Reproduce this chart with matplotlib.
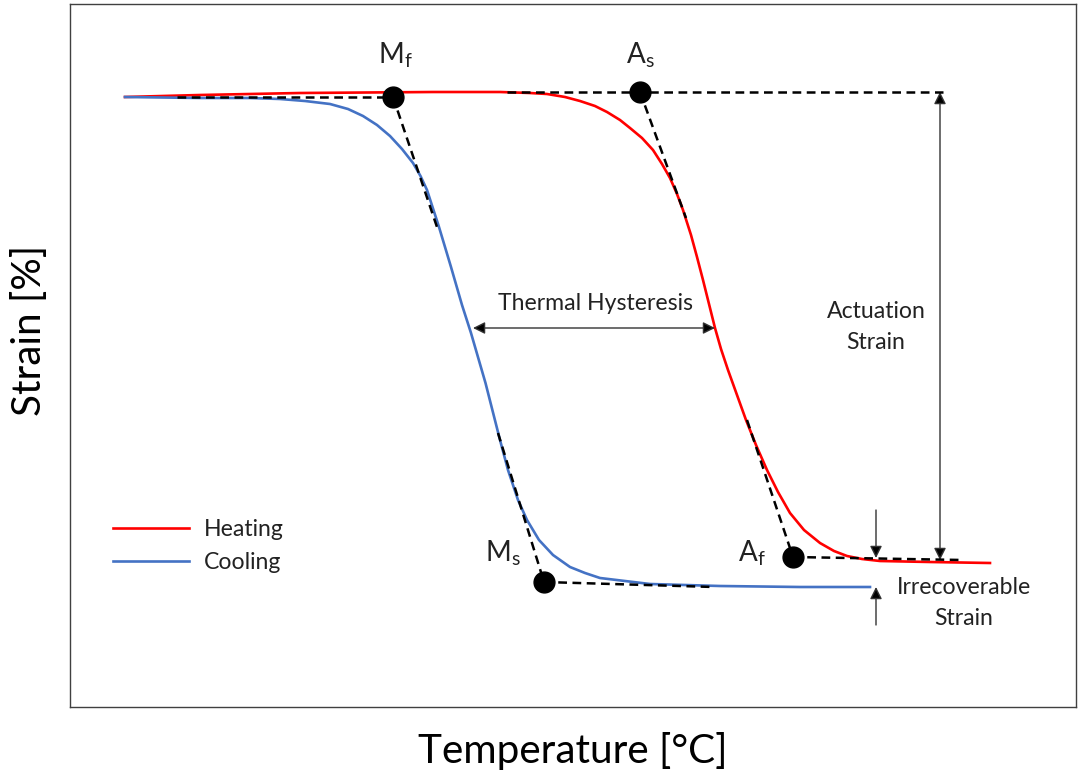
"""Shape-memory alloy strain vs temperature schematic (heating/cooling loop)."""

import matplotlib
matplotlib.use("Agg")
import matplotlib.pyplot as plt

plt.rcParams["font.family"] = ["Lato", "DejaVu Sans"]
plt.rcParams["mathtext.fontset"] = "custom"
plt.rcParams["mathtext.rm"] = "Lato"
plt.rcParams["mathtext.it"] = "Lato"

# --- Curves (temperature in arbitrary units, strain in arbitrary units) ---
cool_temp = [12.5, 20.0, 25.0, 28.0, 30.5, 33.0, 34.8, 36.3, 37.7, 39.0, 40.2,
             41.3, 42.05, 42.7, 43.9, 45.1, 46.2, 47.1, 48.55, 50.0, 50.8, 51.8,
             52.7, 53.9, 55.3, 57.0, 58.5, 60.0, 62.5, 65.0, 72.0, 80.0, 87.0]
cool_strain = [6.10, 6.09, 6.09, 6.08, 6.06, 6.03, 5.98, 5.91, 5.82, 5.71, 5.58,
               5.44, 5.31, 5.17, 4.80, 4.40, 4.02, 3.74, 3.24, 2.67, 2.37, 2.07,
               1.87, 1.67, 1.52, 1.40, 1.34, 1.29, 1.26, 1.23, 1.21, 1.20, 1.20]

heat_temp = [12.5, 20.0, 30.0, 43.3, 50.0, 53.0, 54.7, 56.5, 58.0, 59.5, 60.7,
             62.0, 63.0, 64.2, 65.3, 66.2, 67.0, 67.7, 68.3, 69.1, 69.7, 70.3,
             70.9, 71.5, 72.1, 72.8, 73.7, 74.6, 75.6, 76.7, 77.8, 79.0, 80.4,
             82.0, 83.4, 84.7, 86.2, 88.0, 93.0, 99.0]
heat_strain = [6.10, 6.12, 6.14, 6.15, 6.15, 6.14, 6.13, 6.10, 6.06, 6.01, 5.95,
               5.87, 5.79, 5.69, 5.57, 5.43, 5.29, 5.13, 4.97, 4.72, 4.50, 4.27,
               4.03, 3.79, 3.58, 3.37, 3.12, 2.87, 2.62, 2.37, 2.15, 1.94, 1.77,
               1.64, 1.56, 1.51, 1.48, 1.46, 1.45, 1.44]

# --- Transformation points ---
point_names = [r"M$_\mathrm{f}$", r"A$_\mathrm{s}$", r"M$_\mathrm{s}$", r"A$_\mathrm{f}$"]
point_temp = [39.3, 64.0, 54.4, 79.3]
point_strain = [6.10, 6.15, 1.25, 1.50]
label_temp = [39.5, 64.0, 50.3, 75.2]
label_strain = [6.52, 6.52, 1.54, 1.54]

# --- Tangent construction lines: (T0, T1), (s0, s1) ---
tangent_temp = [(17.7, 39.3), (39.3, 43.8), (50.7, 94.3), (64.0, 68.6),
                (49.8, 54.4), (54.4, 71.4), (74.7, 79.3), (79.3, 96.2)]
tangent_strain = [(6.10, 6.10), (6.10, 4.77), (6.15, 6.15), (6.15, 4.89),
                  (2.74, 1.25), (1.25, 1.20), (2.87, 1.50), (1.50, 1.47)]

# --- Annotation arrows ---
hyst_temp = (47.3, 71.5)
hyst_strain = 3.79
act_temp = 94.0
act_strain = (6.15, 1.47)
irr_temp = 87.6
irr_top = (1.97, 1.49)
irr_bottom = (0.82, 1.20)

RED = "#FF0000"
BLUE = "#4472C4"
TEXT = "#222222"
FS = 16.6

fig = plt.figure(figsize=(10.84, 7.75), dpi=100)
ax = fig.add_axes([70 / 1084, 68 / 775, 1006 / 1084, 703 / 775])
ax.set_xlim(7.0, 107.6)
ax.set_ylim(0, 7.03)
ax.set_xticks([])
ax.set_yticks([])
for sp in ax.spines.values():
    sp.set_color("#404040")
    sp.set_linewidth(1.0)

ax.plot(heat_temp, heat_strain, color=RED, lw=1.9, label="Heating", zorder=3)
ax.plot(cool_temp, cool_strain, color=BLUE, lw=1.9, label="Cooling", zorder=3)

for tt, ss in zip(tangent_temp, tangent_strain):
    ax.plot(tt, ss, color="black", lw=1.8, ls=(0, (3.5, 2.2)), zorder=4)

ax.plot(point_temp, point_strain, "o", color="black", ms=15, zorder=5)
for name, tx, ty in zip(point_names, label_temp, label_strain):
    ax.text(tx, ty, name, fontsize=20, ha="center", va="center", color=TEXT)

arrow_kw = dict(color="#333333", lw=1.0, shrinkA=0, shrinkB=0, mutation_scale=18)
ax.annotate("", xy=(hyst_temp[1], hyst_strain), xytext=(hyst_temp[0], hyst_strain),
            arrowprops=dict(arrowstyle="<|-|>", fc="black", **arrow_kw))
ax.text(sum(hyst_temp) / 2 + 0.1, hyst_strain + 0.25, "Thermal Hysteresis",
        fontsize=FS, ha="center", va="center", color=TEXT)

ax.annotate("", xy=(act_temp, act_strain[1]), xytext=(act_temp, act_strain[0]),
            arrowprops=dict(arrowstyle="<|-|>", fc="black", **arrow_kw))
ax.text(87.6, 3.80, "Actuation\nStrain", fontsize=FS, ha="center", va="center",
        linespacing=1.55, color=TEXT)

ax.annotate("", xy=(irr_temp, irr_top[1]), xytext=(irr_temp, irr_top[0]),
            arrowprops=dict(arrowstyle="-|>", fc="black", **arrow_kw))
ax.annotate("", xy=(irr_temp, irr_bottom[1]), xytext=(irr_temp, irr_bottom[0]),
            arrowprops=dict(arrowstyle="-|>", fc="black", **arrow_kw))
ax.text(96.4, 1.04, "Irrecoverable\nStrain", fontsize=FS, ha="center", va="center",
        linespacing=1.55, color=TEXT)

ax.legend(loc="upper left", bbox_to_anchor=(0.0427, 0.267), frameon=False,
          fontsize=FS, handlelength=3.3, handletextpad=0.65, labelspacing=0.5,
          borderpad=0, borderaxespad=0, labelcolor=TEXT)

ax.set_xlabel("Temperature [°C]", fontsize=29.2, labelpad=18)
ax.set_ylabel("Strain [%]", fontsize=29.2)
ax.yaxis.set_label_coords(-0.022, 0.535)

fig.savefig("out.png", dpi=100)
